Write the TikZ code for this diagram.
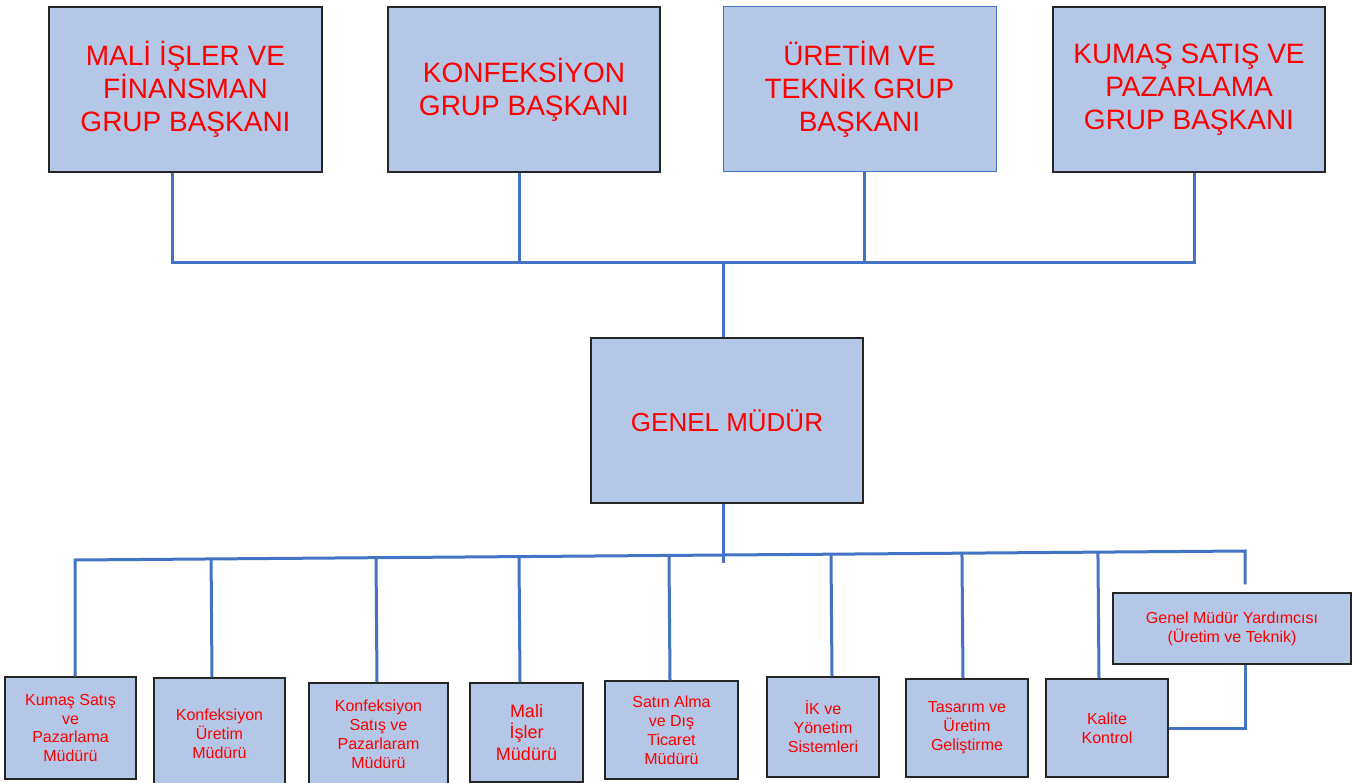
\documentclass[tikz,border=0pt]{standalone}
\usepackage{fontspec}
\setmainfont{Liberation Sans}
\usepackage{tikz}
\usetikzlibrary{positioning}
\usetikzlibrary{calc}
\definecolor{boxfill}{HTML}{B4C7E7}
\definecolor{linkblue}{HTML}{4472C4}
\definecolor{boxline}{HTML}{262626}
\tikzset{box/.style={draw=boxline, fill=boxfill, text=red, align=center, line width=1.5pt, inner sep=0pt}}
\tikzset{link/.style={draw=linkblue, line width=3pt}}
\tikzset{bigtxt/.style={font=\fontsize{28}{33}\selectfont}}
\tikzset{smalltxt/.style={font=\fontsize{16}{19}\selectfont}}

\begin{document}
\begin{tikzpicture}[x=1pt,y=-1pt]
\clip (0,0) rectangle (1360,783);
\node[box, bigtxt, minimum width=273pt, minimum height=165pt] (fin) at (185.5,89.5) {MAL\.I \.IŞLER VE\\F\.INANSMAN\\GRUP BAŞKANI};
\node[box, bigtxt, minimum width=272pt, minimum height=165pt] (konf) at (524,89.5) {KONFEKS\.IYON\\GRUP BAŞKANI};
\node[box, bigtxt, draw=linkblue, line width=1pt, minimum width=273pt, minimum height=165pt] (uret) at (859.5,89.5) {ÜRET\.IM VE\\TEKN\.IK GRUP\\BAŞKANI};
\node[box, bigtxt, minimum width=272pt, minimum height=165pt] (kumas) at (1189,89.5) {KUMAŞ SATIŞ VE\\PAZARLAMA\\GRUP BAŞKANI};
\node[box, font=\fontsize{26}{31}\selectfont, minimum width=272pt, minimum height=165pt] (gm) at (727,420.5) {GENEL MÜDÜR};

\node[box, font=\fontsize{16}{18.5}\selectfont, minimum width=131pt, minimum height=102pt] (kp) at (70.5,728) {Kumaş Satış\\ve\\Pazarlama\\Müdürü};
\node[box, smalltxt, minimum width=131pt, minimum height=111pt] (ku) at (219.5,733.5) {Konfeksiyon\\Üretim\\Müdürü};
\node[box, smalltxt, minimum width=139pt, minimum height=103pt] (ks) at (378.5,734.5) {Konfeksiyon\\Satış ve\\Pazarlaram\\Müdürü};
\node[box, font=\fontsize{18}{21.5}\selectfont, minimum width=113pt, minimum height=99pt] (mi) at (526.5,732.5) {Mali\\\.Işler\\Müdürü};
\node[box, smalltxt, minimum width=133pt, minimum height=98pt] (sa) at (671.5,730) {Satın Alma\\ve Dış\\Ticaret\\Müdürü};
\node[box, smalltxt, minimum width=112pt, minimum height=100pt] (ik) at (823,727) {\.IK ve\\Yönetim\\Sistemleri};
\node[box, smalltxt, minimum width=122pt, minimum height=98pt] (ts) at (967,728) {Tasarım ve\\Üretim\\Geliştirme};
\node[box, smalltxt, minimum width=122pt, minimum height=98pt] (kk) at (1107,728) {Kalite\\Kontrol};
\node[box, smalltxt, minimum width=238pt, minimum height=71pt] (gmy) at (1232,628.5) {Genel Müdür Yardımcısı\\(Üretim ve Teknik)};

\draw[link] ([xshift=-13.5pt]fin.south) -- ++(0,90) -| ([xshift=5pt]kumas.south);
\draw[link] ([xshift=-5pt]konf.south) -- ++(0,90);
\draw[link] ([xshift=4.5pt]uret.south) -- ++(0,90);
\draw[link] ([xshift=-4pt]gm.north) -- ++(0,-76);
\draw[link] ([xshift=-4pt]gm.south) -- ++(0,59);

\coordinate (L) at (75,560);
\coordinate (R) at (1245,551);
\draw[link] ([xshift=4.5pt]kp.north) -- (L) -- (R) -- ([xshift=13pt,yshift=8pt]gmy.north);
\foreach \n/\dx in {ku/-7.5, ks/-1.5, mi/-6.5, sa/-1.5, ik/9, ts/-4, kk/-8} {
\coordinate (top) at ([xshift=\dx pt]\n.north);
\draw[link] (top) -- ($(L)!(top)!(R)$);
}
\draw[link] ([xshift=13pt]gmy.south) |- (kk.east);
\end{tikzpicture}
\end{document}
